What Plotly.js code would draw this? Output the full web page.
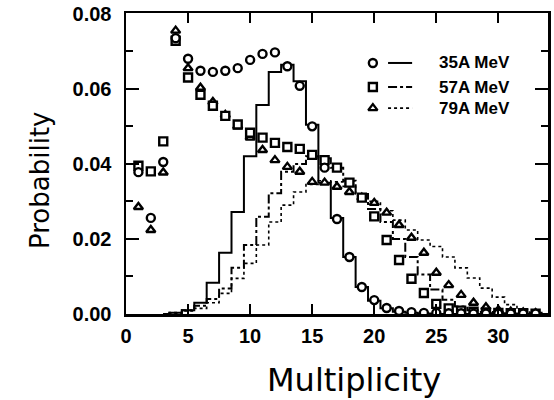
<!DOCTYPE html>
<html>
<head>
<meta charset="utf-8">
<script src="https://cdn.plot.ly/plotly-3.0.1.min.js"></script>
<style>html,body{margin:0;padding:0;background:#fff;}#chart{width:554px;height:400px;}</style>
</head>
<body>
<div id="chart"></div>
<script>
// Multiplicity values for the data points
const multiplicity = [1,2,3,4,5,6,7,8,9,10,11,12,13,14,15,16,17,18,19,20,21,22,23,24,25,26,27,28,29,30,31,32,33];
// Measured probabilities (markers)
const prob35 = [0.0378,0.0256,0.0405,0.0735,0.0680,0.0648,0.0645,0.0648,0.0655,0.0677,0.0693,0.0697,0.0660,0.0608,0.0500,0.0390,0.0253,0.0152,0.0072,0.0037,0.0016,0.0008,0.0005,0.0003,0.0003,0.0002,0.0002,0.0001,0.0001,0.0001,0.0001,0.0001,0.0001];
const prob57 = [0.0395,0.0380,0.0460,0.0728,0.0630,0.0584,0.0555,0.0528,0.0505,0.0483,0.0470,0.0456,0.0445,0.0440,0.0424,0.0410,0.0390,0.0350,0.0310,0.0260,0.0197,0.0144,0.0094,0.0056,0.0027,0.0015,0.0009,0.0006,0.0004,0.0003,0.0002,0.0002,0.0001];
const prob79 = [0.0285,0.0224,0.0377,0.0755,0.0655,0.0603,0.0565,0.0530,0.0500,0.0470,0.0437,0.0410,0.0392,0.0379,0.0352,0.0350,0.0339,0.0325,0.0310,0.0296,0.0270,0.0237,0.0203,0.0163,0.0110,0.0077,0.0051,0.0030,0.0018,0.0010,0.0006,0.0004,0.0002];
// Histogram bins (step lines)
const binX = [3,4,5,6,7,8,9,10,11,12,13,14,15,16,17,18,19,20,21,22,23,24,25,26,27,28,29,30,31,32,33,34];
const hist35 = [0,0.0003,0.0010,0.0030,0.0083,0.0163,0.0272,0.0420,0.0557,0.0645,0.0664,0.0620,0.0504,0.0350,0.0256,0.0152,0.0072,0.0035,0.0015,0.0006,0.0003,0.0001,0,0,0,0,0,0,0,0,0,0];
const hist57 = [0,0.0003,0.0010,0.0022,0.0040,0.0068,0.0123,0.0184,0.0259,0.0322,0.0379,0.0400,0.0420,0.0415,0.0390,0.0355,0.0320,0.0280,0.0245,0.0200,0.0152,0.0105,0.0065,0.0038,0.0020,0.0010,0.0005,0.0002,0.0001,0,0,0];
const hist79 = [0,0.0002,0.0008,0.0015,0.0030,0.0055,0.0095,0.0135,0.0184,0.0245,0.0290,0.0325,0.0345,0.0355,0.0352,0.0340,0.0320,0.0300,0.0275,0.0250,0.0224,0.0197,0.0180,0.0152,0.0123,0.0096,0.0069,0.0045,0.0025,0.0012,0.0004,0];
// Legend / labels
const seriesLabels = ["35A MeV","57A MeV","79A MeV"];
const seriesSymbols = ["circle","square","triangle-up"];
const seriesDash = ["solid","dashdot","dot"];
const xTicks = [0,5,10,15,20,25,30];
const yTicks = [0.00,0.02,0.04,0.06,0.08];
const xTitle = "Multiplicity";
const yTitle = "Probability";

const mk = (sym) => ({symbol: sym, size: 8, color: 'white', line: {color: 'black', width: 2.4}});
const traces = [
  {x: binX, y: hist79, mode: 'lines', line: {shape: 'hvh', color: 'black', width: 1.6, dash: 'dot'}, hoverinfo: 'skip'},
  {x: binX, y: hist57, mode: 'lines', line: {shape: 'hvh', color: 'black', width: 2, dash: 'dashdot'}, hoverinfo: 'skip'},
  {x: binX, y: hist35, mode: 'lines', line: {shape: 'hvh', color: 'black', width: 2}, hoverinfo: 'skip'},
  {x: multiplicity, y: prob79, mode: 'markers', marker: mk('triangle-up')},
  {x: multiplicity, y: prob57, mode: 'markers', marker: mk('square')},
  {x: multiplicity, y: prob35, mode: 'markers', marker: mk('circle')}
];

// legend (overlay axes in 0..1 units)
const legX = 0.585, legLineX0 = 0.621, legLineX1 = 0.678, legTextX = 0.737;
const legRows = [0.834, 0.754, 0.684];
traces.push({
  x: legRows.map(() => legX), y: legRows, xaxis: 'x2', yaxis: 'y2', mode: 'markers',
  marker: {symbol: seriesSymbols, size: 8, color: 'white', line: {color: 'black', width: 2.4}}, hoverinfo: 'skip'
});
const shapes = legRows.map((ry, i) => ({
  type: 'line', xref: 'paper', yref: 'paper', x0: legLineX0, x1: legLineX1, y0: ry, y1: ry,
  line: {color: 'black', width: i === 2 ? 1.6 : 2, dash: seriesDash[i]}
}));
const annotations = legRows.map((ry, i) => ({
  xref: 'paper', yref: 'paper', x: legTextX, y: ry, xanchor: 'left', yanchor: 'middle',
  text: seriesLabels[i], showarrow: false,
  font: {family: 'Liberation Sans', size: 17, color: 'black', weight: 'bold'}
}));
annotations.push({
  xref: 'paper', yref: 'paper', x: 0.540, y: -0.219, xanchor: 'center', yanchor: 'middle',
  text: xTitle, showarrow: false, font: {family: 'DejaVu Sans', size: 32, color: 'black'}
});
annotations.push({
  xref: 'paper', yref: 'paper', x: -0.204, y: 0.445, xanchor: 'center', yanchor: 'middle',
  text: yTitle, textangle: -90, showarrow: false, font: {family: 'DejaVu Sans', size: 26, color: 'black'}
});

const tickFont = {family: 'Liberation Sans', size: 20, color: 'black', weight: 'bold'};
const layout = {
  width: 554, height: 400,
  margin: {l: 126, r: 6, t: 13, b: 86},
  paper_bgcolor: 'white', plot_bgcolor: 'white',
  showlegend: false,
  xaxis: {
    range: [0, 34], tickvals: xTicks, ticktext: xTicks.map(String),
    ticks: 'inside', ticklen: 10, tickwidth: 2, tickcolor: 'black',
    showline: true, linewidth: 2.5, linecolor: 'black', mirror: 'ticks',
    showgrid: false, zeroline: false, tickfont: tickFont, ticklabelstandoff: 2
  },
  yaxis: {
    range: [0, 0.0802], tickvals: yTicks, ticktext: yTicks.map(v => v.toFixed(2)),
    ticks: 'inside', ticklen: 13, tickwidth: 2, tickcolor: 'black',
    minor: {dtick: 0.01, tick0: 0, ticks: 'inside', ticklen: 7, tickwidth: 2, tickcolor: 'black'},
    showline: true, linewidth: 2.5, linecolor: 'black', mirror: 'ticks',
    showgrid: false, zeroline: false, tickfont: tickFont, ticklabelstandoff: 8
  },
  xaxis2: {overlaying: 'x', anchor: 'y2', range: [0, 1], visible: false},
  yaxis2: {overlaying: 'y', anchor: 'x2', range: [0, 1], visible: false},
  shapes: shapes,
  annotations: annotations
};
Plotly.newPlot('chart', traces, layout, {staticPlot: true, displayModeBar: false});
</script>
</body>
</html>
